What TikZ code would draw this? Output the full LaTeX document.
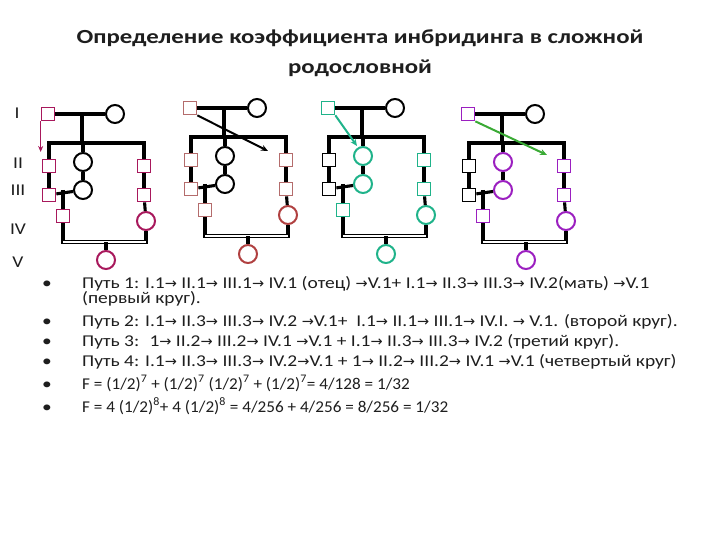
\documentclass[tikz,border=0pt]{standalone}
\usepackage{fontspec}
\setmainfont{Carlito}
\newfontfamily\bodyf{Carlito}[FakeStretch=1.18]
\newfontfamily\formf{Carlito}[FakeStretch=1.04]
\newfontfamily\titlef{Carlito}[FakeStretch=1.24]
\newfontfamily\djv{DejaVu Sans}
\usetikzlibrary{arrows.meta}
\newcommand\ra{{\djv\fontsize{14.5}{16}\selectfont →}}
\definecolor{crim}{HTML}{A8185C}
\definecolor{pinkbr}{HTML}{B46C6C}
\definecolor{redbr}{HTML}{B04040}
\definecolor{teal2}{HTML}{1FB38A}
\definecolor{purp}{HTML}{9B1FC0}
\definecolor{grn}{HTML}{3AAA35}
\definecolor{txt}{HTML}{1E1E1E}
\tikzset{
  sq/.style={draw=#1, rectangle, minimum size=13pt, inner sep=0pt, line width=1.7pt, fill=white},
  ci/.style={draw=#1, circle, minimum size=18pt, inner sep=0pt, line width=2pt, fill=white},
  ln/.style={line width=3.1pt, black},
  dbl/.style={line width=1.6pt, double=white, double distance=1.4pt, black},
  lbl/.style={font=\bodyf\fontsize{16.5}{18}\selectfont, text=txt, inner sep=0pt},
  bt/.style={font=\bodyf\fontsize{16.5}{18}\selectfont, text=txt, inner sep=0pt, anchor=base west},
  ft/.style={font=\formf\fontsize{16.5}{18}\selectfont, text=txt, inner sep=0pt, anchor=base west},
  bl/.style={font=\bodyf\fontsize{16.5}{18}\selectfont, text=txt, inner sep=0pt, anchor=base},
}
% #1 prefix, #2 x, #3 y, #4 I1 colour, #5 left squares, #6 middle circles, #7 right + IV squares, #8 IV/V circles
\newcommand\pedig[8]{%
\begin{scope}[shift={(#2,#3)}]
  \node[sq=#4] (#1I1) at (0,0) {};
  \node[ci=black] (#1I2) at (67,0) {};
  \node[sq=#5] (#1IIL) at (1,52) {};
  \node[ci=#6] (#1IIC) at (35,48) {};
  \node[sq=#7] (#1IIR) at (96,52) {};
  \node[sq=#5] (#1IIIL) at (1,81) {};
  \node[ci=#6] (#1IIIC) at (35,76) {};
  \node[sq=#7] (#1IIIR) at (96,81) {};
  \node[sq=#7] (#1IVS) at (15,102) {};
  \node[ci=#8] (#1IVC) at (98,107) {};
  \node[ci=#8] (#1V) at (58,146) {};
  \coordinate (#1mI) at (34,0);
  \coordinate (#1sibL) at (1,29);
  \coordinate (#1sibR) at (96,29);
  \coordinate (#1mIII) at (15,76);
  \coordinate (#1matL) at (15,128);
  \coordinate (#1matR) at (98,128);
  \coordinate (#1matM) at (58,128);
  \draw[ln] (#1I1) -- (#1I2);
  \draw[ln] (#1mI) -- (#1mI |- #1sibL);
  \draw[ln] ([xshift=-1.55pt]#1sibL) -- ([xshift=1.55pt]#1sibR);
  \draw[ln] (#1sibL) -- (#1IIL);
  \draw[ln] (#1sibR) -- (#1IIR);
  \draw[ln] (#1IIC |- #1sibL) -- (#1IIC);
  \draw[ln] (#1IIL) -- (#1IIIL);
  \draw[ln] (#1IIC) -- (#1IIIC);
  \draw[ln] (#1IIR) -- (#1IIIR);
  \draw[ln] (#1IIIR) -- (#1IVC);
  \draw[ln] (#1IIIL) -- (#1IIIC);
  \draw[ln] (#1mIII) -- (#1IVS);
  \draw[ln] (#1IVS) -- ([yshift=-2.3pt]#1matL);
  \draw[ln] (#1IVC) -- ([yshift=-2.3pt]#1matR);
  \draw[dbl] (#1matL) -- (#1matR);
  \draw[ln] (#1matM) -- (#1V);
\end{scope}}
\begin{document}
\begin{tikzpicture}[x=1pt,y=-1pt]
\path[use as bounding box, fill=white] (0,0) rectangle (720,540);
% title
\node[font=\titlef\fontsize{20}{30}\selectfont\bfseries, text=txt, align=center] (title) at (360,53)
  {Определение коэффициента инбридинга в сложной\\родословной};
% generation labels
\node[lbl] (gI) at (17,113) {I};
\node[lbl] (gII) at (18,163) {II};
\node[lbl] (gIII) at (18,190) {III};
\node[lbl] (gIV) at (18,229) {IV};
\node[lbl] (gV) at (18,262) {V};
% pedigrees
\pedig{a}{48}{114}{crim}{crim}{black}{crim}{crim}
\pedig{b}{190}{108}{pinkbr}{pinkbr}{black}{pinkbr}{redbr}
\pedig{c}{328}{108}{teal2}{black}{teal2}{teal2}{teal2}
\pedig{d}{468}{114}{purp}{black}{purp}{purp}{purp}
% arrows
\coordinate (aA) at (42,152);
\draw[crim, line width=1.6pt, -{Stealth[length=6pt,width=5pt]}] (aI1.south west) ++(0,0) coordinate (aS) (aS) -- (aS |- aA);
\coordinate (bA) at (268,151);
\draw[black, line width=2pt, -{Stealth[length=7pt,width=6pt]}] (bI1.south east) -- (bA);
\coordinate (cA) at (357,146);
\draw[teal2, line width=2pt, -{Stealth[length=7pt,width=6pt]}] (cI1.south east) -- (cA);
\coordinate (dA) at (547,155);
\draw[grn, line width=2pt, -{Stealth[length=7pt,width=6pt]}] (dI1.south east) -- (dA);
% bullets
\node[bl] (b1) at (47,288) {•};
\node[bl] (b2) at (47,326) {•};
\node[bl] (b3) at (47,346) {•};
\node[bl] (b4) at (47,366) {•};
\node[bl] (b5) at (47,389) {•};
\node[bl] (b6) at (47,412) {•};
\node[bt] (t1) at (82,288) {Путь 1: I.1\ra{} II.1\ra{} III.1\ra{} IV.1 (отец) \ra V.1+ I.1\ra{} II.3\ra{} III.3\ra{} IV.2(мать) \ra V.1};
\node[bt] (t1b) at (82,303) {(первый круг).};
\node[bt] (t2) at (82,326) {Путь 2: I.1\ra{} II.3\ra{} III.3\ra{} IV.2 \ra V.1+ \ I.1\ra{} II.1\ra{} III.1\ra{} IV.I. \ra{} V.1. (второй круг).};
\node[bt] (t3) at (82,346) {Путь 3: \ 1\ra{} II.2\ra{} III.2\ra{} IV.1 \ra V.1 + I.1\ra{} II.3\ra{} III.3\ra{} IV.2 (третий круг).};
\node[bt] (t4) at (82,366) {Путь 4: I.1\ra{} II.3\ra{} III.3\ra{} IV.2\ra V.1 + 1\ra{} II.2\ra{} III.2\ra{} IV.1 \ra V.1 (четвертый круг)};
\node[ft] (t5) at (82,389) {F = (1/2)\textsuperscript{7} + (1/2)\textsuperscript{7} (1/2)\textsuperscript{7} + (1/2)\textsuperscript{7}= 4/128 = 1/32};
\node[ft] (t6) at (82,412) {F = 4 (1/2)\textsuperscript{8}+ 4 (1/2)\textsuperscript{8} = 4/256 + 4/256 = 8/256 = 1/32};
\end{tikzpicture}
\end{document}
